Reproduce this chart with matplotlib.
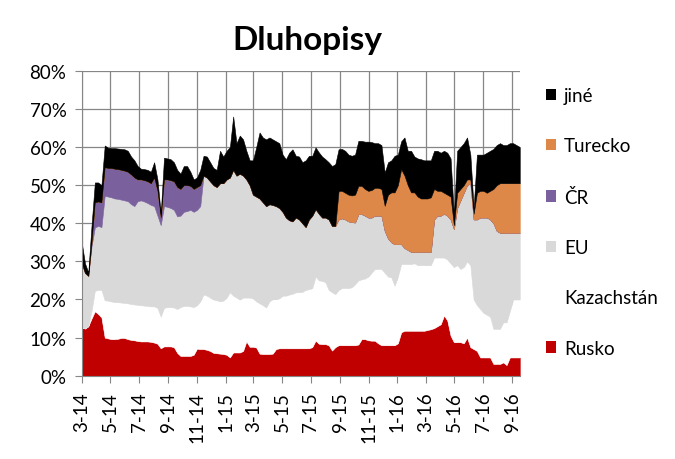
import numpy as np
import pandas as pd
import matplotlib
matplotlib.use('Agg')
import matplotlib.pyplot as plt
import matplotlib.dates as mdates
from matplotlib.patches import Patch
from matplotlib.ticker import MultipleLocator, FuncFormatter

plt.rcParams['font.family'] = ['Lato', 'DejaVu Sans']

# tydenni data od brezna 2014 (podily v %)
datumy = pd.date_range('2014-03-01', periods=134, freq='7D')

rusko = [12.7, 12.4, 13.0, 15.0, 16.9, 16.2, 15.3, 10.0, 9.8, 9.6,
         9.6, 9.7, 9.9, 9.9, 9.6, 9.4, 9.3, 9.1, 9.0, 9.0,
         9.0, 8.9, 8.7, 8.4, 7.2, 7.7, 7.7, 7.7, 7.5, 6.0,
         5.2, 5.2, 5.2, 5.2, 5.5, 7.1, 7.0, 7.0, 6.8, 6.5,
         6.0, 5.9, 5.8, 5.7, 5.5, 4.8, 6.1, 6.1, 6.1, 6.5,
         9.0, 7.6, 7.6, 7.4, 5.8, 5.7, 5.7, 5.7, 5.8, 7.0,
         7.2, 7.2, 7.2, 7.2, 7.2, 7.2, 7.2, 7.2, 7.2, 7.2,
         7.5, 9.2, 8.4, 8.3, 8.3, 8.0, 6.6, 7.5, 8.0, 8.0,
         8.0, 8.0, 8.0, 8.0, 8.2, 9.6, 9.6, 9.3, 9.2, 9.2,
         8.5, 8.0, 8.0, 8.0, 8.0, 8.0, 8.5, 11.4, 11.8, 11.8,
         11.8, 11.8, 11.8, 11.8, 11.8, 12.0, 12.2, 12.5, 13.0, 13.5,
         15.8, 14.5, 10.5, 8.8, 8.8, 8.8, 8.5, 10.0, 7.5, 7.0,
         6.5, 4.8, 4.8, 4.8, 4.8, 3.1, 3.1, 3.1, 3.5, 2.8,
         4.8, 4.8, 4.8, 4.8]

kazachstan = [0, 0, 0, 2.0, 5.4, 6.3, 7.2, 9.8, 9.9, 9.9,
              9.7, 9.6, 9.3, 9.2, 9.4, 9.4, 9.4, 9.5, 9.5, 9.4,
              9.3, 9.3, 9.5, 9.4, 8.3, 10.1, 10.3, 10.3, 10.4, 11.5,
              12.8, 13.1, 13.1, 13.0, 12.5, 11.4, 12.5, 14.3, 14.2, 14.0,
              14.0, 13.9, 13.7, 14.0, 15.0, 17.1, 14.9, 14.4, 13.9, 14.0,
              11.5, 12.9, 12.7, 12.1, 13.2, 12.8, 12.2, 13.8, 14.3, 13.1,
              13.1, 13.8, 13.8, 14.1, 14.3, 14.7, 14.7, 14.8, 15.3, 15.5,
              15.5, 16.8, 16.6, 16.6, 16.2, 14.5, 15.3, 13.9, 14.5, 15.0,
              15.0, 15.0, 15.2, 16.0, 16.8, 15.7, 15.9, 16.7, 17.8, 18.8,
              19.5, 20.0, 19.0, 18.0, 17.8, 15.6, 17.5, 17.9, 17.5, 17.5,
              17.5, 17.7, 17.2, 17.2, 17.2, 17.0, 16.8, 18.5, 18.0, 17.5,
              15.2, 16.0, 19.0, 19.7, 20.2, 19.2, 20.0, 20.0, 21.5, 13.0,
              12.0, 12.7, 11.7, 11.2, 10.7, 9.2, 9.2, 9.2, 10.5, 11.2,
              12.2, 15.2, 15.2, 15.2]

eu = [16.8, 14.6, 13.2, 17.0, 16.6, 16.8, 16.5, 27.4, 27.3, 27.3,
      27.2, 27.1, 27.0, 26.9, 26.8, 26.2, 25.8, 27.2, 27.5, 27.3,
      27.0, 26.6, 26.3, 24.2, 24.0, 26.7, 26.3, 26.0, 25.6, 24.3,
      24.0, 24.7, 24.9, 25.3, 25.0, 25.0, 25.0, 31.2, 31.0, 30.5,
      30.0, 29.7, 31.0, 30.8, 31.0, 30.1, 33.0, 32.0, 33.0, 32.0,
      31.0, 29.5, 27.2, 27.5, 27.5, 27.0, 26.6, 25.5, 24.7, 24.4,
      23.7, 22.0, 20.5, 19.5, 19.0, 19.6, 19.1, 18.0, 16.5, 18.3,
      19.0, 17.7, 17.5, 16.6, 17.0, 18.5, 17.4, 17.9, 18.5, 18.3,
      18.0, 17.5, 17.1, 16.2, 17.4, 17.1, 16.5, 15.5, 14.5, 14.0,
      14.0, 14.0, 11.0, 10.0, 9.2, 10.9, 8.5, 5.2, 4.2, 3.7,
      3.2, 3.0, 3.5, 3.5, 3.5, 3.5, 3.5, 10.0, 11.0, 11.0,
      11.5, 11.5, 11.5, 10.0, 15.0, 18.0, 19.5, 20.0, 21.5, 21.0,
      22.5, 24.0, 25.0, 25.5, 25.5, 27.7, 25.7, 25.2, 23.5, 23.5,
      20.5, 17.5, 17.5, 17.5]

cr = ([0, 0, 0, 1.0, 6.6, 6.4, 6.5, 7.5, 7.5, 7.7,
       7.8, 7.8, 7.8, 7.8, 7.7, 7.8, 7.5, 5.7, 5.5, 5.6,
       5.7, 5.7, 7.5, 6.5, 2.0, 7.0, 7.2, 7.3, 7.5, 7.7,
       7.0, 7.0, 6.8, 6.3, 6.0, 6.0, 5.5]
      + [0] * 97)

turecko = ([0] * 78
           + [7.5, 7.2,
              7.0, 7.0, 7.0, 7.3, 7.4, 7.4, 7.0, 7.0, 7.2, 7.3,
              7.3, 7.0, 6.6, 11.5, 13.1, 13.6, 15.5, 19.7, 19.0, 17.0,
              15.6, 15.6, 14.5, 14.0, 14.0, 14.0, 14.3, 8.0, 6.5, 6.5,
              5.5, 5.5, 6.0, 1.0, 4.0, 3.0, 2.0, 1.5, 1.0, 1.5,
              7.0, 7.0, 7.0, 6.5, 7.5, 9.0, 12.0, 13.0, 13.0, 13.0,
              13.0, 13.0, 13.0, 13.0])

jine = [5.5, 2.5, 0.9, 4.5, 5.2, 5.0, 4.5, 5.7, 5.3, 5.2,
        5.4, 5.4, 5.5, 5.6, 5.5, 4.7, 4.5, 3.5, 2.8, 2.9,
        3.0, 3.0, 4.0, 3.0, 1.0, 5.7, 5.5, 5.5, 5.0, 4.5,
        4.0, 5.0, 5.0, 3.7, 2.5, 2.5, 4.0, 5.2, 5.5, 5.0,
        4.5, 4.5, 8.5, 7.0, 7.5, 8.0, 14.0, 8.5, 10.0, 9.5,
        7.5, 6.5, 9.0, 13.0, 17.3, 17.0, 17.5, 17.5, 17.2, 17.0,
        17.0, 15.0, 15.3, 17.7, 18.9, 16.2, 16.5, 16.0, 17.5, 16.7,
        15.7, 16.2, 16.1, 16.0, 15.3, 15.0, 15.7, 16.2, 10.9, 11.0,
        11.0, 10.5, 10.4, 10.5, 11.8, 11.8, 12.4, 12.9, 12.6, 11.7,
        11.7, 11.5, 8.7, 8.5, 8.4, 9.6, 8.0, 7.3, 10.0, 9.0,
        10.9, 9.4, 10.0, 10.3, 10.0, 10.0, 9.7, 10.0, 10.5, 10.0,
        11.0, 11.0, 10.0, 2.5, 11.0, 11.0, 11.0, 11.0, 6.5, 1.5,
        10.0, 9.5, 9.5, 10.5, 10.5, 10.5, 10.5, 10.5, 10.0, 10.0,
        10.5, 10.5, 10.0, 9.5]

nazvy = ['Rusko', 'Kazachstán', 'EU', 'ČR', 'Turecko', 'jiné']
barvy = ['#C00000', '#FFFFFF', '#D9D9D9', '#7A619E', '#DD8848', '#000000']

fig, ax = plt.subplots(figsize=(6.75, 4.6), dpi=100)
fig.subplots_adjust(left=0.121, right=0.770, bottom=0.181, top=0.844)

vrstvy = ax.stackplot(datumy, rusko, kazachstan, eu, cr, turecko, jine,
                      colors=barvy, zorder=2)
for v in vrstvy:
    v.set_edgecolor(v.get_facecolor())
    v.set_linewidth(0.4)

ax.set_xlim(datumy[0], datumy[-1])
ax.set_ylim(0, 80)
ax.set_axisbelow(True)
ax.grid(True, color='#868686', linewidth=0.9)

ax.yaxis.set_major_locator(MultipleLocator(10))
ax.yaxis.set_major_formatter(FuncFormatter(lambda v, _: f"{v:.0f}%"))
ax.xaxis.set_major_locator(mdates.MonthLocator(bymonth=[1, 3, 5, 7, 9, 11]))
ax.xaxis.set_major_formatter(FuncFormatter(
    lambda v, _: f"{mdates.num2date(v).month}-{mdates.num2date(v):%y}"))

for s in ['top', 'right']:
    ax.spines[s].set_visible(False)
for s in ['left', 'bottom']:
    ax.spines[s].set_color('#868686')

ax.tick_params(axis='both', color='#868686', length=5, labelsize=13.5)
ax.tick_params(axis='y', pad=6)
ax.tick_params(axis='x', pad=6)
plt.setp(ax.get_xticklabels(), rotation=90, ha='center', va='top')

fig.text(0.456, 0.912, 'Dluhopisy', fontsize=24, fontweight='bold',
         ha='center', va='center')

handles = [Patch(facecolor=c, edgecolor='none', label=n)
           for n, c in zip(nazvy, barvy)][::-1]
ax.legend(handles=handles, loc='upper left', bbox_to_anchor=(0.809, 0.809),
          bbox_transform=fig.transFigure, frameon=False, fontsize=13.5,
          handlelength=0.55, handleheight=0.55, handletextpad=0.4,
          labelspacing=1.78, borderpad=0, borderaxespad=0)

fig.savefig('out.png', dpi=100)
